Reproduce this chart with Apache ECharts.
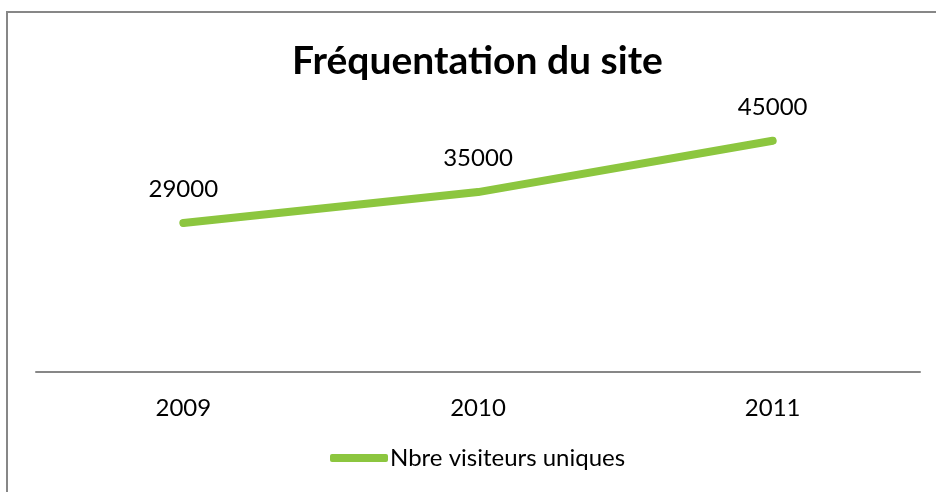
<!DOCTYPE html>
<html>
<head>
<meta charset="utf-8">
<script src="https://cdn.jsdelivr.net/npm/echarts@6/dist/echarts.min.js"></script>
<style>
  html, body { margin: 0; padding: 0; background: #fff; }
  #chart { width: 936px; height: 492px; }
</style>
</head>
<body>
<div id="chart"></div>
<script>
'use strict';

// 数据
const years = ['2009', '2010', '2011'];
const visiteurs = [29000, 35000, 45000];
const seriesName = 'Nbre visiteurs uniques';
const titleText = 'Fréquentation du site';

const FONT = 'Lato, "Open Sans", sans-serif';
const GREEN = '#8cc63f';

const myChart = echarts.init(document.getElementById('chart'));

const option = {
    backgroundColor: '#fff',
    animation: false,
    title: {
        text: titleText,
        left: 287,
        top: 37,
        textStyle: { fontFamily: FONT, fontSize: 39, fontWeight: 'bold', color: '#000' }
    },
    graphic: [{
        type: 'rect',
        shape: { x: 7, y: 12, width: 1000, height: 600 },
        style: { fill: 'none', stroke: '#878787', lineWidth: 2 },
        silent: true
    }],
    legend: {
        bottom: 17,
        left: 325,
        itemWidth: 58,
        itemHeight: 8,
        itemGap: 4,
        icon: 'roundRect',
        textStyle: { fontFamily: FONT, fontSize: 24, color: '#000', padding: [0, 0, 0, -3] },
        data: [seriesName]
    },
    grid: { left: 36, right: 16, top: 115, bottom: 120 },
    xAxis: {
        type: 'category',
        data: years,
        boundaryGap: true,
        axisLine: { lineStyle: { color: '#878787', width: 2 } },
        axisTick: { show: false },
        axisLabel: { fontFamily: FONT, fontSize: 24, color: '#000', margin: 24 }
    },
    yAxis: {
        type: 'value',
        min: 0,
        max: 50000,
        show: false,
        splitLine: { show: false }
    },
    series: [{
        name: seriesName,
        type: 'line',
        data: visiteurs,
        symbol: 'circle',
        symbolSize: 7,
        lineStyle: { color: GREEN, width: 8, cap: 'round', join: 'round' },
        itemStyle: { color: GREEN },
        label: {
            show: true,
            position: 'top',
            distance: 18,
            fontFamily: FONT,
            fontSize: 24,
            color: '#000'
        }
    }]
};

myChart.setOption(option);
</script>
</body>
</html>
